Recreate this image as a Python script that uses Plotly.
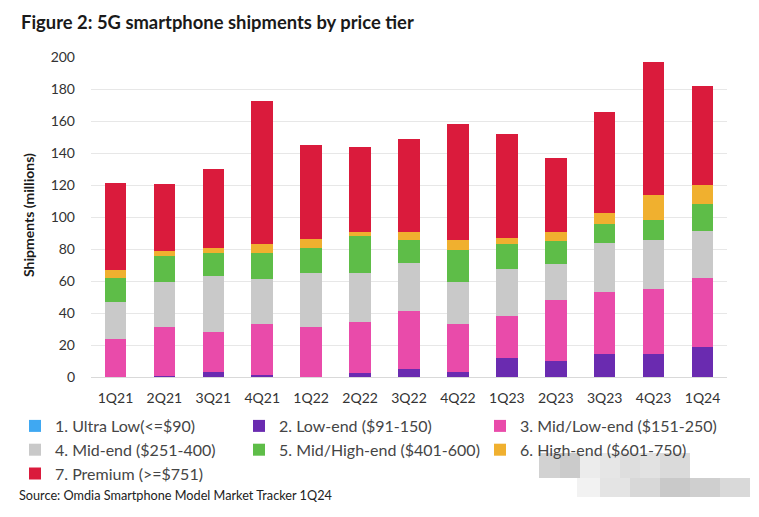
import plotly.graph_objects as go

quarters = ["1Q21", "2Q21", "3Q21", "4Q21", "1Q22", "2Q22", "3Q22",
            "4Q22", "1Q23", "2Q23", "3Q23", "4Q23", "1Q24"]

ultra_low = [0, 0, 0, 0, 0, 0, 0, 0, 0, 0, 0, 0, 0]
low_end = [0.2, 0.5, 2.9, 1.2, 0.3, 2.3, 4.8, 3.3, 11.7, 10.0, 14.4, 14.4, 18.5]
mid_low = [23.5, 30.5, 25.0, 31.9, 30.8, 32.3, 36.5, 29.8, 26.4, 38.1, 38.9, 40.6, 43.4]
mid_end = [23.3, 28.6, 35.4, 27.9, 34.2, 30.2, 29.8, 26.1, 29.2, 22.3, 30.7, 30.6, 29.4]
mid_high = [14.7, 16.2, 14.0, 16.3, 15.4, 23.5, 14.6, 20.2, 15.8, 14.8, 11.6, 12.5, 16.9]
high_end = [5.2, 3.0, 3.5, 5.6, 5.7, 2.3, 5.0, 6.2, 3.6, 5.2, 7.1, 15.7, 11.9]
premium = [54.1, 41.6, 49.2, 89.6, 58.5, 53.4, 58.2, 72.5, 65.4, 46.3, 63.1, 83.0, 61.9]

series_names = ["1. Ultra Low(<=$90)", "2. Low-end ($91-150)", "3. Mid/Low-end ($151-250)",
                "4. Mid-end ($251-400)", "5. Mid/High-end ($401-600)", "6. High-end ($601-750)",
                "7. Premium (>=$751)"]
series_values = [ultra_low, low_end, mid_low, mid_end, mid_high, high_end, premium]
colors = ["#3FA8F2", "#6A2BB0", "#E94BAA", "#C9C9C9", "#5EBD48", "#F0B02F", "#DA1B3C"]
# legend columns: items 1,4,7 | 2,5 | 3,6
legend_cols = ["legend", "legend2", "legend3", "legend", "legend2", "legend3", "legend"]

y_ticks = list(range(0, 201, 20))

FONT = "Lato"
W, H = 759, 517
OFF = 8  # page body margin offset


def cx(px):
    return (px - OFF) / W


def cy(py):
    return 1 - (py - OFF) / H


PLOT_L, PLOT_R, PLOT_T, PLOT_B = 91, 727, 57, 377
pw, ph = PLOT_R - PLOT_L, PLOT_B - PLOT_T


def pxx(px):
    return (px - PLOT_L) / pw


def pyy(py):
    return (PLOT_B - py) / ph


fig = go.Figure()
for i, (name, vals, col, lg) in enumerate(zip(series_names, series_values, colors, legend_cols)):
    fig.add_trace(go.Bar(x=quarters, y=vals, name=name, marker=dict(color=col, line=dict(width=0)),
                         legend=lg, legendgroup=f"g{i}"))

legend_common = dict(orientation="v", xref="paper", yref="paper",
                     xanchor="left", yanchor="top", itemwidth=30, tracegroupgap=6,
                     font=dict(family=FONT, size=16, color="#454545"),
                     bgcolor="rgba(0,0,0,0)", traceorder="normal", itemclick=False)

fig.update_layout(
    width=W, height=H,
    paper_bgcolor="white", plot_bgcolor="white",
    margin=dict(l=PLOT_L - OFF, r=W - (PLOT_R - OFF), t=PLOT_T - OFF, b=H - (PLOT_B - OFF),
                autoexpand=False),
    barmode="stack", bargap=0.56,
    font=dict(family=FONT, color="#333333"),
    title=dict(text="<b>Figure 2: 5G smartphone shipments by price tier</b>",
               x=cx(21), xanchor="left", xref="container", y=cy(23), yanchor="middle",
               yref="container", font=dict(family=FONT, size=18.4, color="#1a1a1a")),
    xaxis=dict(showgrid=False, showline=True, linecolor="#D9D9D9", linewidth=1,
               tickfont=dict(family=FONT, size=14, color="#333333"), ticks="",
               ticklabelstandoff=8),
    yaxis=dict(range=[0, 200], tickvals=y_ticks, showgrid=True, gridcolor="#E7E7E7",
               gridwidth=1, zeroline=False, showline=False, ticks="",
               tickfont=dict(family=FONT, size=14, color="#333333"), ticklabelstandoff=15),
    legend=dict(legend_common, x=pxx(15), y=pyy(409)),
    legend2=dict(legend_common, x=pxx(239), y=pyy(409)),
    legend3=dict(legend_common, x=pxx(480), y=pyy(409)),
    showlegend=True,
)

# y-axis title
fig.add_annotation(text="<b>Shipments (millions)</b>", textangle=-90,
                   xref="paper", yref="paper", x=pxx(28), y=pyy(215),
                   xanchor="center", yanchor="middle", showarrow=False,
                   font=dict(family=FONT, size=14, color="#1a1a1a"))

fig.add_annotation(text="Source: Omdia Smartphone Model Market Tracker 1Q24",
                   xref="paper", yref="paper", x=pxx(17), y=pyy(495),
                   xanchor="left", yanchor="middle", showarrow=False,
                   font=dict(family=FONT, size=12.7, color="#222222"))

# pixelated watermark patch present in the reference image
mosaic = [
    (539, 560, 453, 478, "#D2D2D2"), (560, 580, 453, 478, "#CBCBCB"), (580, 600, 453, 478, "#ECECEC"),
    (600, 620, 453, 478, "#E6E6E6"), (620, 640, 453, 478, "#DEDEDE"), (640, 660, 453, 478, "#E2E2E2"),
    (660, 690, 453, 478, "#DADADA"),
    (577, 600, 478, 497, "#F2F2F2"), (600, 630, 478, 497, "#E4E4E4"), (630, 660, 478, 497, "#D8D8D8"),
    (660, 690, 478, 497, "#C9C9C9"), (690, 720, 478, 497, "#CFCFCF"), (720, 750, 478, 497, "#D9D9D9"),
]
for x0, x1, y0, y1, c in mosaic:
    fig.add_shape(type="rect", xref="paper", yref="paper",
                  x0=pxx(x0), x1=pxx(x1), y0=pyy(y1), y1=pyy(y0),
                  fillcolor=c, line=dict(width=0), layer="above")

fig.write_html("out.html")
